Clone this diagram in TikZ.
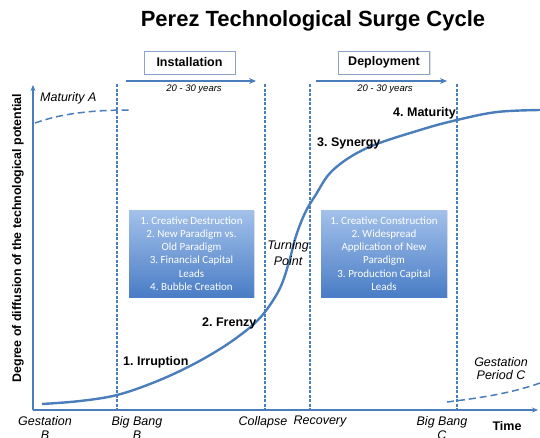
\documentclass[tikz,border=0pt]{standalone}
\usepackage{fontspec}
\setmainfont{Liberation Sans}
\newfontfamily\calibri{Carlito}
\usetikzlibrary{arrows.meta, positioning, shadows}
\definecolor{curveblue}{HTML}{4A7EBB}
\definecolor{boxtop}{HTML}{A3C1EA}
\definecolor{boxbottom}{HTML}{4A7DC6}
\definecolor{phaseline}{HTML}{8AA3C6}
\frenchspacing

\begin{document}
\begin{tikzpicture}[x=1pt, y=-1pt,
  axis/.style={-{Stealth[length=6pt, width=5pt]}, line width=1.2pt, draw=curveblue},
  marker/.style={line width=1.2pt, draw=curveblue, dash pattern=on 3pt off 1.5pt},
  future/.style={line width=1.5pt, draw=curveblue, dash pattern=on 7pt off 4pt},
  span/.style={-{Stealth[length=7pt, width=6pt]}, line width=1.8pt, draw=curveblue},
  phase/.style={rectangle, draw=phaseline, fill=white, line width=0.8pt, minimum width=91pt, minimum height=23pt, font=\fontsize{12.5}{14}\selectfont\bfseries, drop shadow={opacity=0.25, shadow xshift=1pt, shadow yshift=-1pt}},
  trait/.style={rectangle, top color=boxtop, bottom color=boxbottom, text=white, align=center, minimum width=125pt, minimum height=87pt, inner sep=2pt, font=\calibri\fontsize{11}{13.3}\selectfont, drop shadow={opacity=0.2, shadow xshift=1pt, shadow yshift=-1pt}},
  stage/.style={font=\fontsize{12.5}{14}\selectfont\bfseries, inner sep=0pt, anchor=west},
  event/.style={font=\fontsize{12.5}{14}\selectfont\itshape, align=center, inner sep=0pt},
  years/.style={font=\fontsize{9.5}{10}\selectfont\itshape, inner sep=0pt}
]
  \useasboundingbox (0,0) rectangle (540,437);

  \node[font=\fontsize{22}{24}\selectfont\bfseries] (title) at (313,21) {Perez Technological Surge Cycle};

  % phases
  \node[phase] (install) at (189.5,62.5) {Installation};
  \node[phase] (deploy) at (384,62.5) {Deployment};
  \coordinate (install-from) at (126,81);
  \coordinate (install-to) at (256,81);
  \coordinate (deploy-from) at (316,81);
  \coordinate (deploy-to) at (447,81);
  \draw[span] (install-from) -- (install-to);
  \draw[span] (deploy-from) -- (deploy-to);
  \node[years] (install-years) at (194,89) {20 - 30 years};
  \node[years] (deploy-years) at (385,89) {20 - 30 years};

  % markers
  \foreach \name/\x in {bangB/117, collapse/265, recovery/310, bangC/457} {
    \coordinate (\name-top) at (\x,84);
    \coordinate (\name-bot) at (\x,410);
    \draw[marker] (\name-top) -- (\name-bot);
  }

  % axes
  \coordinate (origin) at (33,410);
  \coordinate (ytip) at (33,85);
  \coordinate (xtip) at (538,410);
  \draw[axis] (origin) -- (ytip);
  \draw[axis] (origin) -- (xtip);
  \node[rotate=90, font=\fontsize{12.4}{14}\selectfont\bfseries] (ylabel) at (18,238) {Degree of diffusion of the technological potential};

  % previous and next surge
  \coordinate (matA-start) at (35,123);
  \coordinate (matA-end) at (130,110);
  \draw[future] (matA-start) .. controls (60,114) and (90,110) .. (matA-end);
  \coordinate (gestC-start) at (447,402);
  \coordinate (gestC-end) at (540,383);
  \draw[future] (gestC-start) .. controls (480,398) and (512,393) .. (gestC-end);

  % surge
  \draw[curveblue, line width=2.4pt] plot[smooth, tension=0.6] coordinates {(42,404) (80,401) (117,395) (155,382) (190,366) (220,349) (243,333) (258,320) (270,305) (281,286) (289,262) (296,236) (305,213) (315,196) (333,170) (367,148) (420,130) (457,120) (497,112) (540,110)};

  \node[trait] (install-traits) at (191.5,253.5) {1. Creative Destruction\\2. New Paradigm vs.\\Old Paradigm\\3. Financial Capital\\Leads\\4. Bubble Creation};
  \node[trait, minimum width=126pt] (deploy-traits) at (384,253.5) {1. Creative Construction\\2. Widespread\\Application of New\\Paradigm\\3. Production Capital\\Leads};

  % labels
  \node[stage] (irruption) at (123,362) {1. Irruption};
  \node[stage] (frenzy) at (202,323) {2. Frenzy};
  \node[stage] (synergy) at (317,143) {3. Synergy};
  \node[stage] (maturity) at (393,113) {4. Maturity};
  \node[event, font=\fontsize{12.5}{16}\selectfont\itshape] (turning) at (288,253) {Turning\\Point};
  \node[event, anchor=west] (matA) at (40,98) {Maturity A};
  \node[event, font=\fontsize{12.5}{13}\selectfont\itshape] (gestC) at (501,369) {Gestation\\Period C};

  \node[event, anchor=north] (gestB) at (45,416) {Gestation\\B};
  \node[event, anchor=north] (bangB) at (137,416) {Big Bang\\B};
  \node[event, anchor=north] (collapse) at (263,416) {Collapse};
  \node[event, anchor=north] (recovery) at (320,416) {Recovery};
  \node[event, anchor=north] (bangC) at (442,416) {Big Bang\\C};
  \node[font=\fontsize{12.5}{14}\selectfont\bfseries, anchor=north] (time) at (507,418) {Time};
\end{tikzpicture}
\end{document}
